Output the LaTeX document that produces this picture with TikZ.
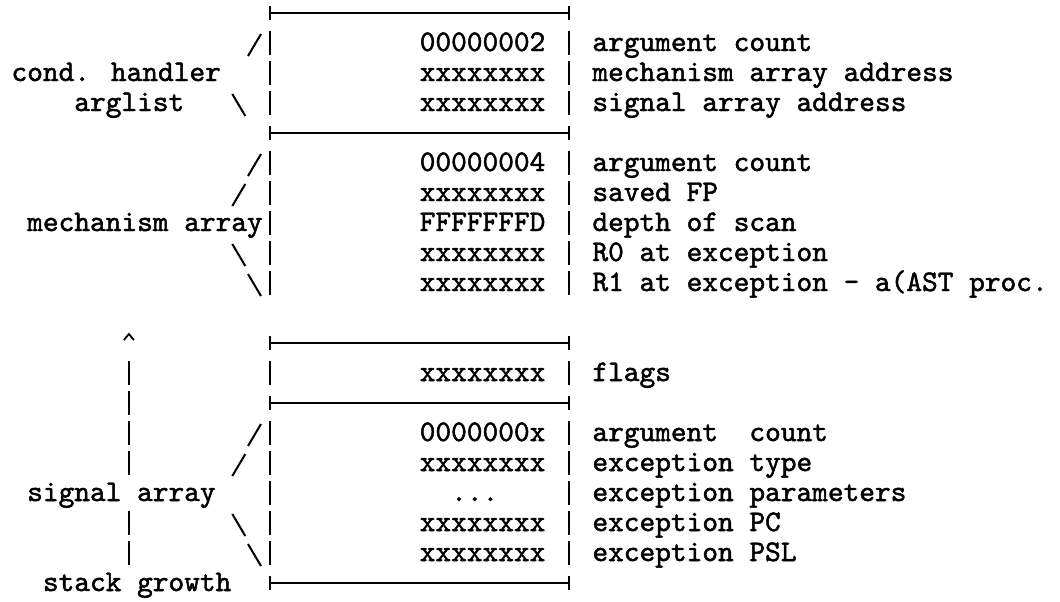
\documentclass[tikz,border=0pt]{standalone}
\usepackage{fontspec}
\newfontfamily\mono{lmmono10-regular}[Extension=.otf, FakeBold=1.6]
\begin{document}
\begin{tikzpicture}[x=0.5pt,y=-0.5pt,
  declare function={cx(\c)=19+15.7*\c; ly(\l)=13+30*\l;},
  lbl/.style={font=\mono\fontsize{14.95}{15}\selectfont, inner sep=0pt, anchor=base west},
  rule/.style={line width=1pt},
  bar/.style={line width=1pt}]
\fill[white] (0,0) rectangle (1060,601);
\useasboundingbox (0,0) rectangle (1060,601);

% horizontal box rules with "+" corners
\foreach \l in {0,4,11,13,19} {
  \draw[rule] ({cx(16)},{ly(\l)}) -- ({cx(35)},{ly(\l)});
  \draw[rule] ({cx(16)},{ly(\l)-7}) -- ({cx(16)},{ly(\l)+7});
  \draw[rule] ({cx(35)},{ly(\l)-7}) -- ({cx(35)},{ly(\l)+7});
}

% left border and value/description separator
\foreach \l in {1,2,3,5,6,7,8,9,12,14,15,16,17,18} {
  \draw[bar] ({cx(16)},{ly(\l)-12}) -- ({cx(16)},{ly(\l)+12});
  \draw[bar] ({cx(35)},{ly(\l)-12}) -- ({cx(35)},{ly(\l)+12});
}

% brace-like slashes
\foreach \c/\l in {15/1,15/5,14/6,15/14,14/15}
  \draw[bar] ({cx(\c)-6.5},{ly(\l)+13}) -- ({cx(\c)+6.5},{ly(\l)-9});
\foreach \c/\l in {14/3,14/8,15/9,14/17,15/18}
  \draw[bar] ({cx(\c)-6.5},{ly(\l)-9}) -- ({cx(\c)+6.5},{ly(\l)+13});

% stack growth arrow
\draw[line width=0.9pt] ({cx(7)-5},{ly(11)-3}) -- ({cx(7)},{ly(11)-9}) -- ({cx(7)+5},{ly(11)-3});
\foreach \l in {12,13,14,15,17,18}
  \draw[bar] ({cx(7)},{ly(\l)-12}) -- ({cx(7)},{ly(\l)+12});

% left-hand labels
\node[lbl] (cond) at ({cx(0)-7.85},{ly(2)+8}) {cond. handler};
\node[lbl] (argl) at ({cx(4)-7.85},{ly(3)+8}) {arglist};
\node[lbl] (mech) at ({cx(1)-7.85},{ly(7)+8}) {mechanism array};
\node[lbl] (sig)  at ({cx(1)-7.85},{ly(16)+8}) {signal array};
\node[lbl] (stk)  at ({cx(2)-7.85},{ly(19)+8}) {stack growth};

% longword values
\foreach \l/\v in {1/00000002,2/xxxxxxxx,3/xxxxxxxx,5/00000004,6/xxxxxxxx,
                   7/FFFFFFFD,8/xxxxxxxx,9/xxxxxxxx,12/xxxxxxxx,14/0000000x,
                   15/xxxxxxxx,17/xxxxxxxx,18/xxxxxxxx}
  \node[lbl] (v\l) at ({cx(26)-7.85},{ly(\l)+8}) {\v};
\node[lbl] (v16) at ({cx(28)-7.85},{ly(16)+8}) {...};

% descriptions
\foreach \l/\d in {1/argument count,2/mechanism array address,3/signal array address,
                   5/argument count,6/saved FP,7/depth of scan,8/R0 at exception,
                   9/R1 at exception – a(AST proc.,12/flags,14/argument\ \ count,
                   15/exception type,16/exception parameters,17/exception PC,
                   18/exception PSL}
  \node[lbl] (d\l) at ({cx(37)-7.85},{ly(\l)+8}) {\d};
\end{tikzpicture}
\end{document}
